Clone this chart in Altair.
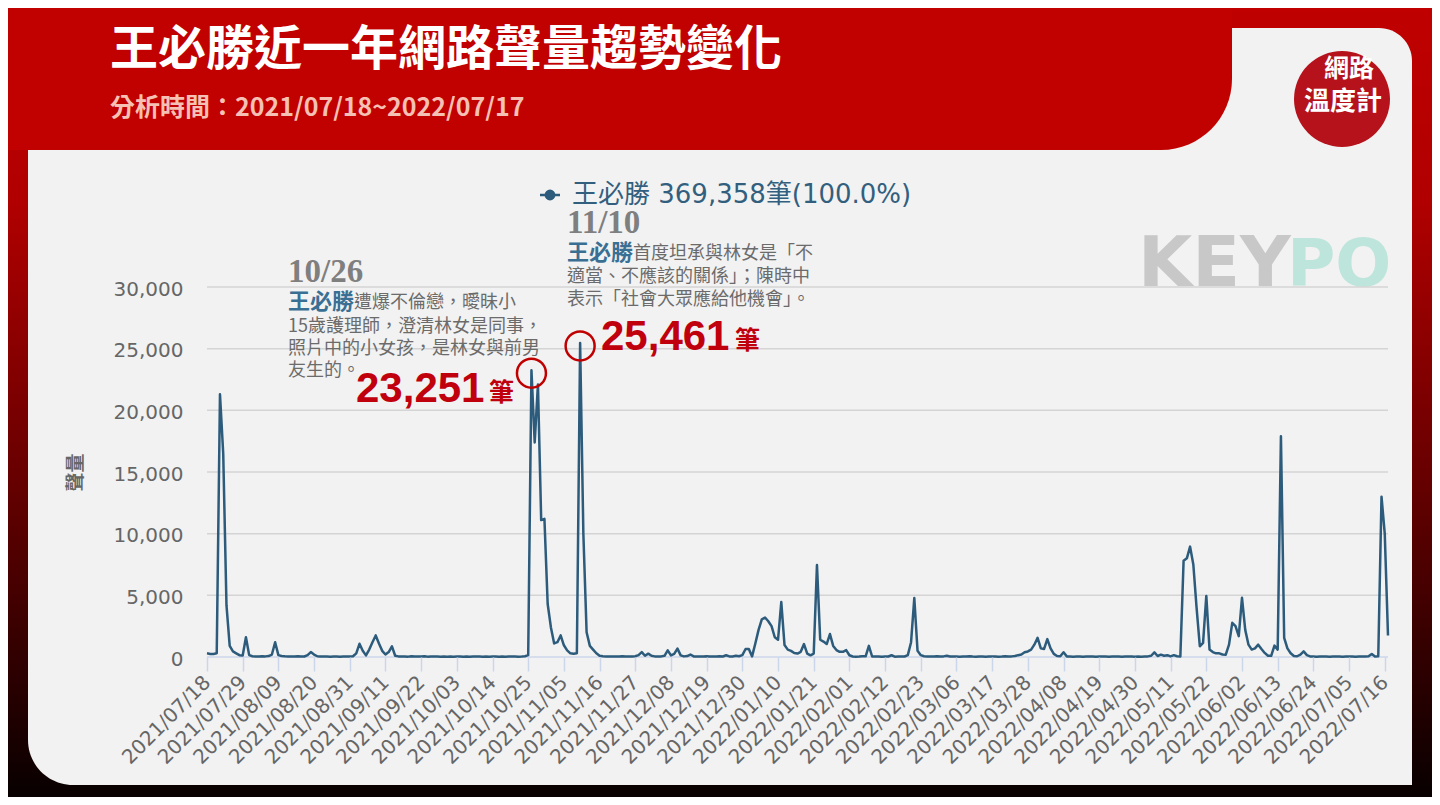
import json
import altair as alt
import pandas as pd

# ---------------- data ----------------
SERIES_NAME = "王必勝"
TOTAL_MENTIONS = 369358
SHARE = "100.0%"
START_DATE = "2021-07-18"

jul_2021 = [300, 250, 250, 300, 21300, 16500, 4200, 900, 450, 300, 150, 120, 1600, 150]
aug_2021 = [60, 50, 50, 60, 50, 80, 200, 1200, 150, 80, 60, 50, 40, 50, 60, 50, 40, 150, 400, 200,
            60, 40, 50, 40, 30, 50, 40, 30, 40, 50, 40]
sep_2021 = [60, 300, 1070, 500, 130, 600, 1200, 1750, 1100, 500, 200, 400, 860, 100, 50, 40, 50, 30,
            60, 40, 50, 40, 60, 30, 40, 50, 40, 30, 40, 30]
oct_2021 = [40, 30, 40, 50, 30, 40, 30, 40, 50, 40, 30, 40, 30, 50, 40, 30, 40, 30, 40, 50, 40, 30,
            40, 60, 150, 23251, 17400, 22100, 11100, 11200, 4300]
nov_2021 = [2400, 1100, 1200, 1750, 950, 540, 300, 270, 300, 25461, 10000, 2000, 900, 600, 300, 100,
            60, 50, 40, 50, 40, 50, 60, 40, 50, 40, 60, 150, 400, 100]
dec_2021 = [270, 100, 50, 40, 50, 100, 540, 130, 250, 680, 130, 50, 80, 200, 50, 40, 50, 40, 60, 50,
            40, 50, 60, 40, 140, 50, 40, 100, 60, 150, 650]
jan_2022 = [650, 50, 1100, 2200, 3050, 3200, 2900, 2500, 1600, 1400, 4450, 970, 600, 500, 330, 280,
            420, 1050, 280, 140, 280, 7450, 1400, 1250, 1050, 1860, 900, 560, 420, 420, 560]
feb_2022 = [140, 40, 30, 40, 60, 60, 900, 40, 50, 40, 30, 50, 40, 140, 30, 40, 50, 40, 150, 1200,
            4780, 500, 150, 60, 40, 50, 40, 60]
mar_2022 = [40, 50, 100, 40, 50, 40, 30, 50, 40, 60, 40, 30, 50, 40, 30, 40, 50, 40, 30, 40, 60, 40,
            50, 80, 150, 200, 380, 450, 600, 1000, 1550]
apr_2022 = [700, 650, 1450, 700, 250, 80, 60, 380, 50, 40, 30, 40, 50, 30, 40, 50, 40, 30, 40, 50,
            40, 30, 40, 50, 40, 30, 40, 50, 40, 30]
may_2022 = [40, 30, 40, 50, 100, 380, 80, 190, 100, 150, 50, 150, 60, 50, 7800, 8000, 8950, 7500,
            4000, 870, 1140, 4950, 600, 400, 300, 300, 200, 190, 1000, 2770, 2500]
jun_2022 = [1690, 4800, 2200, 1000, 600, 700, 1000, 650, 330, 100, 100, 920, 600, 17900, 1550, 700,
            300, 80, 60, 200, 460, 150, 50, 40, 30, 40, 50, 40, 30, 40]
jul_2022 = [50, 40, 30, 40, 50, 40, 30, 40, 50, 40, 60, 250, 50, 60, 13000, 10000, 1750]

TICK_LABELS = ["2021/07/18", "2021/07/29", "2021/08/09", "2021/08/20", "2021/08/31", "2021/09/11",
               "2021/09/22", "2021/10/03", "2021/10/14", "2021/10/25", "2021/11/05", "2021/11/16",
               "2021/11/27", "2021/12/08", "2021/12/19", "2021/12/30", "2022/01/10", "2022/01/21",
               "2022/02/01", "2022/02/12", "2022/02/23", "2022/03/06", "2022/03/17", "2022/03/28",
               "2022/04/08", "2022/04/19", "2022/04/30", "2022/05/11", "2022/05/22", "2022/06/02",
               "2022/06/13", "2022/06/24", "2022/07/05", "2022/07/16"]
Y_TICKS = [0, 5000, 10000, 15000, 20000, 25000, 30000]

PEAK_DATES = ["2021/10/26", "2021/11/10"]
PEAK_VALUES = [23251, 25461]

TITLE = "王必勝近一年網路聲量趨勢變化"
SUBTITLE = "分析時間：2021/07/18~2022/07/17"
NOTE_A = ["遭爆不倫戀，曖昧小", "15歲護理師，澄清林女是同事，", "照片中的小女孩，是林女與前男", "友生的。"]
NOTE_B = ["首度坦承與林女是「不", "適當、不應該的關係」；陳時中", "表示「社會大眾應給他機會」。"]

# ---------------- tables ----------------
values = (jul_2021 + aug_2021 + sep_2021 + oct_2021 + nov_2021 + dec_2021 + jan_2022 +
          feb_2022 + mar_2022 + apr_2022 + may_2022 + jun_2022 + jul_2022)
start = pd.Timestamp(START_DATE)
dates = pd.date_range(start, periods=len(values), freq="D")
legend_label = f"{SERIES_NAME} {TOTAL_MENTIONS:,}筆({SHARE})"
df = pd.DataFrame({"day": list(range(len(values))), "date": dates.strftime("%Y/%m/%d"),
                   "value": values, "series": legend_label})
tick_days = [(pd.Timestamp(l.replace("/", "-")) - start).days for l in TICK_LABELS]
tick_step = tick_days[1] - tick_days[0]
peaks = pd.DataFrame({"day": [(pd.Timestamp(d.replace("/", "-")) - start).days for d in PEAK_DATES],
                      "value": PEAK_VALUES})
grid = pd.DataFrame({"value": Y_TICKS[1:]})
base0 = pd.DataFrame({"value": [0]})
one = pd.DataFrame({"k": [0]})

# ---------------- layout ----------------
PL, PT = 207, 287          # page position of plot origin
W, H = 1181, 370
LINE = "#2c5b7c"
RED = "#C0000C"
GRAY = "#6b6b6b"
BLUE = "#3a6f94"
CJK = "Noto Sans CJK TC"
SANS = "DejaVu Sans"

def rx(X):
    return X - PL

def ry(Y):
    return Y - PT

x_label_expr = f"{json.dumps(TICK_LABELS)}[round(datum.value / {tick_step})]"

def X_ENC():
    return alt.X("day:Q", scale=alt.Scale(domain=[0, len(values) - 1], nice=False, zero=False),
                 axis=alt.Axis(values=tick_days, labelExpr=x_label_expr, labelAngle=-45,
                               labelAlign="right", labelBaseline="middle", labelPadding=8,
                               labelFont=SANS, labelFontSize=20, labelColor="#666666",
                               labelOverlap=False, labelFlush=False, tickColor="#CCD6EB",
                               tickSize=14, tickWidth=1.5, domain=False, grid=False, title=None,
                               zindex=1))

def Y_ENC():
    return alt.Y("value:Q", scale=alt.Scale(domain=[0, 30000], nice=False),
                 axis=alt.Axis(values=Y_TICKS, labelExpr="format(datum.value, ',')",
                               labelFont=SANS, labelFontSize=20, labelOffset=2,
                               labelColor="#666666", labelPadding=24, ticks=False, domain=False,
                               grid=False, title="聲量", titleFont=CJK, titleFontSize=19,
                               titleFontWeight="bold", titleColor="#666666", titleAngle=270,
                               titleX=-132, titleY=185, titleAlign="center",
                               titleBaseline="middle", zindex=1))

def rect(X1, Y1, X2, Y2, **kw):
    return alt.Chart(one).mark_rect(**kw).encode(
        x=alt.value(rx(X1)), x2=alt.value(rx(X2)), y=alt.value(ry(Y1)), y2=alt.value(ry(Y2)))

def txt(s, X, Y, size, color, font=CJK, weight="normal", align="left", baseline="middle"):
    return alt.Chart(one).mark_text(text=s, font=font, fontSize=size, fontWeight=weight,
                                    color=color, align=align, baseline=baseline).encode(
        x=alt.value(rx(X)), y=alt.value(ry(Y)))

bg = rect(8, 8, 1432, 797, fill=alt.LinearGradient(
    gradient="linear", x1=0, x2=0, y1=0, y2=1,
    stops=[alt.GradientStop(offset=0, color="#C00000"),
           alt.GradientStop(offset=0.25, color="#B00000"),
           alt.GradientStop(offset=0.6, color="#660000"),
           alt.GradientStop(offset=1, color="#080000")]))
card = rect(28, 28, 1412, 785, fill="#F2F2F2", cornerRadiusBottomLeft=45, cornerRadiusTopRight=33)
header = rect(8, 8, 1232, 150, fill="#C10000", cornerRadiusBottomRight=130)

layers = [bg, card, header,
          txt(TITLE, 110, 51, 48, "#FFFFFF", weight="bold"),
          txt(SUBTITLE, 110, 108, 25, "#F6C1B5", weight="bold")]

# "網路溫度計" badge (Vega circle: diameter = sqrt(size))
logo = alt.Chart(one).mark_point(shape="circle", filled=True, size=96 * 96, color="#B5121B",
                                 opacity=1).encode(x=alt.value(rx(1342)), y=alt.value(ry(99)))
layers += [logo,
           txt("網路", 1349, 69, 25, "#FFFFFF", weight="bold", align="center"),
           txt("溫度計", 1343, 102, 26, "#FFFFFF", weight="bold", align="center")]

layers += [txt("KEY", 1138, 286, 70, "#C8C8C8", font=SANS, weight="bold", baseline="alphabetic"),
           txt("PO", 1287, 286, 66, "#BEE5DB", font=SANS, weight="bold", baseline="alphabetic")]

gridlines = alt.Chart(grid).mark_rule(color="#D4D4D4", strokeWidth=1.5).encode(
    y=Y_ENC(), x=alt.value(0), x2=alt.value(W))
baseline = alt.Chart(base0).mark_rule(color="#CCD6EB", strokeWidth=1.5).encode(
    y=Y_ENC(), x=alt.value(0), x2=alt.value(W))

symbol_path = ("M-1,0H1M-0.42,0a0.42,0.42 0 1,0 0.84,0a0.42,0.42 0 1,0 -0.84,0")
line = alt.Chart(df).mark_line(strokeWidth=2.5, strokeJoin="round").encode(
    x=X_ENC(), y=Y_ENC(),
    color=alt.Color("series:N", scale=alt.Scale(range=[LINE]),
                    legend=alt.Legend(orient="none", legendX=330, legendY=-105, title=None,
                                      symbolType=symbol_path, symbolSize=400,
                                      symbolStrokeWidth=2.5, symbolStrokeColor=LINE,
                                      symbolFillColor=LINE, labelFont=SANS + ", " + CJK,
                                      labelFontSize=26, labelColor="#335f7f", labelOffset=9,
                                      labelLimit=700, padding=0, zindex=1)))

circles = alt.Chart(peaks).mark_point(shape="circle", filled=False, size=29 * 29, color="#C00000",
                                      strokeWidth=2.5, opacity=1, yOffset=3).encode(
    x=X_ENC(), y=Y_ENC())

layers += [gridlines, baseline, line, circles]

# annotation A (10/26)
layers += [txt(PEAK_DATES[0][5:], 288, 282, 33, "#7F7F7F", font="Liberation Serif",
               weight="bold", baseline="alphabetic"),
           txt(SERIES_NAME, 288, 302, 22, BLUE, weight="bold"),
           txt(NOTE_A[0], 354, 303, 18, GRAY),
           txt(NOTE_A[1], 288, 327, 18, GRAY),
           txt(NOTE_A[2], 288, 349, 18, GRAY),
           txt(NOTE_A[3], 288, 371, 18, GRAY)]
# annotation B (11/10)
layers += [txt(PEAK_DATES[1][5:], 567, 233, 33, "#7F7F7F", font="Liberation Serif",
               weight="bold", baseline="alphabetic"),
           txt(SERIES_NAME, 567, 253, 22, BLUE, weight="bold"),
           txt(NOTE_B[0], 633, 254, 18, GRAY),
           txt(NOTE_B[1], 567, 277, 18, GRAY),
           txt(NOTE_B[2], 567, 300, 18, GRAY)]
# big numbers
layers += [txt(f"{PEAK_VALUES[0]:,}", 356, 402, 42, RED, font="Liberation Sans", weight="bold",
               baseline="alphabetic"),
           txt("筆", 489, 401, 25, RED, weight="bold", baseline="alphabetic"),
           txt(f"{PEAK_VALUES[1]:,}", 601, 350, 42, RED, font="Liberation Sans", weight="bold",
               baseline="alphabetic"),
           txt("筆", 735, 349, 25, RED, weight="bold", baseline="alphabetic")]

chart = alt.layer(*layers).properties(
    width=W, height=H,
    autosize=alt.AutoSizeParams(type="none"),
    padding={"left": PL - 8, "top": PT - 8, "right": 1432 - (PL + W), "bottom": 797 - (PT + H)},
).configure_view(stroke=None).configure(background="#FFFFFF")

chart.save("out.html", embed_options={"renderer": "svg", "actions": False})
